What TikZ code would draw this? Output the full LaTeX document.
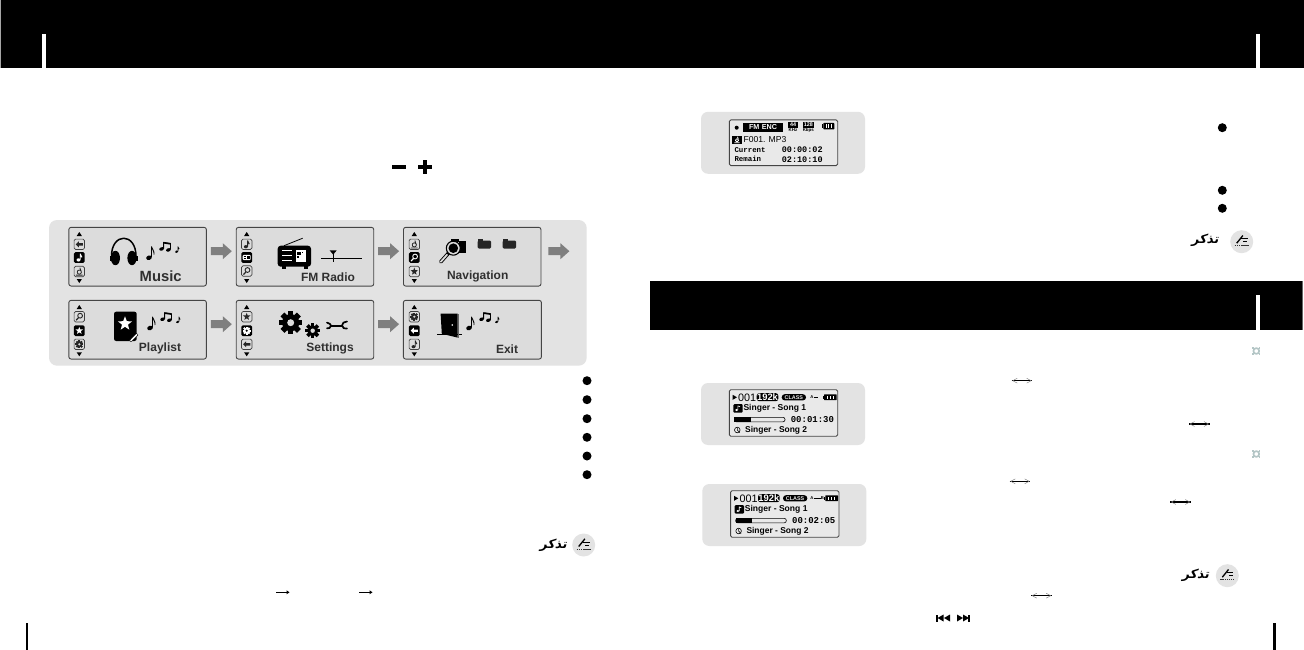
\documentclass[tikz,border=0pt]{standalone}
\usepackage{fontspec}
\setmainfont{Liberation Sans}
\newfontfamily\lcdmono{Liberation Mono}
\newfontfamily\arabicb[Script=Arabic,FakeSlant=0.2]{DejaVu Sans Bold}
\TeXXeTstate=1
\usetikzlibrary{calc}
\definecolor{groupbg}{HTML}{E3E3E3}
\definecolor{panel}{HTML}{DCDCDC}
\definecolor{lcdbg}{HTML}{E9E9E9}
\definecolor{edge}{HTML}{454545}
\definecolor{arrowgray}{HTML}{7F7F7F}
\definecolor{labelgray}{HTML}{303030}
\definecolor{cogtint}{HTML}{B4C6C6}
\tikzset{
  menupanel/.style={draw=edge,fill=panel,line width=.9pt,rounded corners=2.2pt,minimum width=137.5pt,minimum height=58.7pt,inner sep=0pt},
  menulabel/.style={font=\bfseries\fontsize{12}{12}\selectfont,text=labelgray,inner sep=0pt},
  lcd/.style={draw=edge,fill=lcdbg,line width=.9pt,rounded corners=1.5pt,minimum width=108.4pt,minimum height=46.5pt,inner sep=0pt},
  screenbg/.style={fill=groupbg,draw=none,rounded corners=7pt,minimum width=164pt,minimum height=62pt,inner sep=0pt},
  bullet/.style={circle,fill=black,draw=none,minimum size=9pt,inner sep=0pt},
  notedisc/.style={circle,fill=groupbg,draw=none,minimum size=23pt,inner sep=0pt},
  tiny/.style={inner sep=0pt}
}
% --- block arrow centred on a named coordinate
\newcommand{\flowarrow}[1]{\fill[arrowgray]([shift={(-10.5,-4)}]#1)--([shift={(1.5,-4)}]#1)--([shift={(1.5,-8)}]#1)--([shift={(10.5,0)}]#1)--([shift={(1.5,8)}]#1)--([shift={(1.5,4)}]#1)--([shift={(-10.5,4)}]#1)--cycle;}
% --- glyphs for the side icons (drawn round the origin)
\newcommand{\gBack}{\fill[icfg](-3.6,0)--(-.5,-3)--(-.5,-1.2)--(3.6,-1.2)--(3.6,1.2)--(-.5,1.2)--(-.5,3)--cycle;}
\newcommand{\gNote}{\fill[icfg](-.8,2.4) ellipse (2 and 1.6);\draw[icfg,line width=.9pt](.9,2.2)--(.9,-3.6) .. controls (1.4,-2) and (2.6,-1.6) .. (2.6,-.2);}
\newcommand{\gDnote}{\draw[icfg,line width=.8pt](0,.6) circle (2.1);\draw[icfg,line width=.8pt](1.6,-.6)--(.6,-3.8)(-3.4,3.6)--(3.4,3.6);}
\newcommand{\gRadio}{\fill[icfg,rounded corners=1pt](-4,-2.6) rectangle (4,2.6);\fill[icbg](.6,-1.6) rectangle (3,1.2);\draw[icbg,line width=.7pt](-3,-1)--(-.6,-1)(-3,1)--(-.6,1);}
\newcommand{\gMag}{\draw[icfg,line width=.9pt](.8,-1) circle (2.4);\draw[icfg,line width=1.2pt](-.8,.9)--(-3.2,3.6);}
\newcommand{\starfig}[1]{\fill[scale=#1](-90:1)--(-54:.42)--(-18:1)--(18:.42)--(54:1)--(90:.42)--(126:1)--(162:.42)--(198:1)--(234:.42)--cycle;}
\newcommand{\gStar}{\begin{scope}[icfg]\starfig{3.9}\end{scope}}
\newcommand{\gearfig}[3]{\fill[#2](0,0) circle (.74*#1);\foreach \a in {0,45,90,135}{\fill[#2,rotate=\a](-#1,-.24*#1) rectangle (#1,.24*#1);}\fill[#3](0,0) circle (.3*#1);}
\newcommand{\gGear}{\gearfig{4}{icfg}{icbg}}
\newcommand{\iconN}[3]{\begin{scope}[shift={(#1,#2)}]\colorlet{icfg}{black!85}\colorlet{icbg}{panel}\filldraw[fill=icbg,draw=black!75,line width=.7pt,rounded corners=1.5pt](-5.2,-5.2) rectangle (5.2,5.2);#3\end{scope}}
\newcommand{\iconS}[3]{\begin{scope}[shift={(#1,#2)}]\colorlet{icfg}{white}\colorlet{icbg}{black}\fill[black,rounded corners=1.5pt](-5.4,-5.4) rectangle (5.4,5.4);#3\end{scope}}
\newcommand{\sidetris}[3]{\fill[black](#1-2.6,#2+2)--(#1,#2-2)--(#1+2.6,#2+2)--cycle;\fill[black](#1-2.6,#3-2)--(#1,#3+2)--(#1+2.6,#3-2)--cycle;}
% --- music notes group, origin at the big note head
\newcommand{\notegroup}[2]{\begin{scope}[shift={(#1,#2)},black]
 \fill[rotate=20](0,0) ellipse (2.9 and 2.2);
 \draw[line width=.9pt](2.5,-.5)--(2.5,-11) .. controls (3,-8) and (5.6,-7) .. (5,-3);
 \fill[shift={(12.6,-8.8)},rotate=20](0,0) ellipse (2.4 and 1.7);
 \fill[shift={(19.4,-7.8)},rotate=20](0,0) ellipse (2.4 and 1.7);
 \draw[line width=.8pt](14.6,-9)--(14.6,-15.4)--(21.4,-14.4)--(21.4,-8);
 \draw[line width=1.4pt](14.6,-14.8)--(21.4,-13.8);
 \fill[shift={(27.6,-6)},rotate=20](0,0) ellipse (1.7 and 1.3);
 \draw[line width=.7pt](28.9,-6.4)--(28.9,-11) .. controls (29.2,-10) and (30.2,-9.6) .. (30.2,-8.6);
\end{scope}}
% --- battery
\newcommand{\battery}[4]{\fill[black,rounded corners=.6pt](#1+1,#2) rectangle (#3,#4);\fill[black](#1,#2+1.5) rectangle (#1+1,#4-1.5);
 \foreach \k in {.22,.45,.68}{\fill[white]({#1+1+\k*(#3-#1-1)},#2+1.3) rectangle ({#1+1.9+\k*(#3-#1-1)},#4-1.3);}}
% --- play screen
\newcommand{\playscreen}[5]{% prefix, dx, dy, time, repeat mark
 \begin{scope}[shift={(#2,#3)}]
 \node[screenbg] (#1bg) at (783,414) {};
 \node[lcd] (#1lcd) at (783.5,413) {};
 \fill[black](732.7,394.8)--(737,397.3)--(732.7,399.8)--cycle;
 \node[tiny,anchor=west,font=\fontsize{10.8}{11}\selectfont] (#1num) at (738,397.4) {001};
 \fill[black,rounded corners=2.5pt](756.7,393.2) rectangle (778.3,401.2);
 \node[tiny,text=white,font=\bfseries\fontsize{9.4}{10}\selectfont] (#1rate) at (767.5,397.2) {192k};
 \fill[black,rounded corners=3pt](781.7,394.2) rectangle (806,400.4);
 \node[tiny,text=lcdbg,font=\bfseries\fontsize{5.4}{6}\selectfont] (#1cls) at (793.8,397.3) {CLASS};
 #5
 \battery{823}{394.3}{836.7}{400.2}
 \fill[black,rounded corners=1pt](733.3,404.2) rectangle (742.7,412.6);
 \fill[white](736.6,410) ellipse (1.5 and 1.1);\draw[white,line width=.6pt](737.9,410)--(737.9,405.8)--(740,406.8);
 \node[tiny,anchor=west,font=\bfseries\fontsize{8.55}{9}\selectfont] (#1s1) at (743.3,408.6) {Singer - Song 1};
 \draw[black,line width=.6pt,rounded corners=2pt](734.3,417.4) rectangle (785,421.8);
 \fill[black](734.3,417.4) rectangle (750.7,421.8);
 \node[tiny,anchor=east,font=\lcdmono\bfseries\fontsize{9}{10}\selectfont] (#1time) at (834.2,420) {#4};
 \draw[black,line width=.6pt](737.3,430) circle (2.8);\draw[black,line width=.6pt](737.3,430)--(739.8,432.6)(737.3,428)--(737.3,430);
 \node[tiny,anchor=west,font=\bfseries\fontsize{8.45}{9}\selectfont] (#1s2) at (745,430) {Singer - Song 2};
 \end{scope}}
% --- the "note" mark: Arabic word plus grey disc with pen sketch
\newcommand{\notemark}[5]{% prefix, word x, word y, disc x, disc y
 \node[tiny,font=\arabicb\fontsize{12.5}{13}\selectfont] (#1word) at (#2,#3) {\beginR تذكر\endR};
 \node[notedisc] (#1disc) at (#4,#5) {};
 \begin{scope}[shift={(#4,#5)}]
  \draw[black,line width=1.3pt](-5,1.5)--(1.2,-6.2);
  \draw[black,line width=1pt](-.5,-3)--(6,-3);
  \draw[black!80,line width=1pt,dash pattern=on 1.5pt off .6pt](-7,4.2)--(7,4.2);
  \draw[black,line width=.9pt](1.5,0)--(5.5,0);
 \end{scope}}
\newcommand{\updown}[2]{% double-headed thin mark starting at x=#1, y=#2
 \draw[black,line width=1.1pt](#1,#2)--(#1+20.5,#2);
 \draw[black!50,line width=.45pt](#1+5.5,#2-2.4)--(#1+1,#2)--(#1+5.5,#2+2.4)(#1+15,#2-2.4)--(#1+19.5,#2)--(#1+15,#2+2.4);}
\newcommand{\smallright}[2]{\draw[black,line width=.9pt](#1,#2)--(#1+12,#2);\fill[black](#1+10.5,#2-2)--(#1+13.5,#2)--(#1+10.5,#2+2)--cycle;}
\begin{document}
\begin{tikzpicture}[x=1pt,y=-1pt,line join=round]
\useasboundingbox (0,0) rectangle (1304,650);
\fill[white](0,0) rectangle (1304,650);
% headers
\fill[black!35](0,0) rectangle (1.2,68.5);
\fill[black](1,0) rectangle (1304,68.5);
\fill[white](42.4,33.6) rectangle (46,68.5);
\fill[white](1256,33.6) rectangle (1259.6,68.5);
\fill[black](650,281) rectangle (1302,329.5);
\fill[black!60](1302,281) rectangle (1303,329.5);
\fill[white](1256,295) rectangle (1259.8,329.5);
% bottom ticks
\fill[black](26,623) rectangle (28.4,650);
\fill[black](1273.4,623) rectangle (1275.8,650);
% minus plus
\fill[black](391.7,164.8) rectangle (406,168.6);
\fill[black](418,164.8) rectangle (432,168.6);
\fill[black](423,160) rectangle (427,174);
% menu group
\fill[groupbg,rounded corners=8pt](49,220) rectangle (586.7,365.7);
\node[menupanel] (p1) at (137.6,256.7) {};
\node[menupanel] (p2) at (305,256.7) {};
\node[menupanel] (p3) at (472.2,256.7) {};
\node[menupanel] (p4) at (137.6,329.7) {};
\node[menupanel] (p5) at (305,329.7) {};
\node[menupanel,minimum width=138pt] (p6) at (472.4,329.7) {};
\coordinate (a1) at ($(p1.east)!.5!(p2.west)+(0,-5.5)$);
\coordinate (a2) at ($(p2.east)!.5!(p3.west)+(0,-5.5)$);
\coordinate (a3) at ($(p3.east)+(17.5,-5.5)$);
\coordinate (a4) at ($(p4.east)!.5!(p5.west)+(0,-5.5)$);
\coordinate (a5) at ($(p5.east)!.5!(p6.west)+(0,-5.5)$);
\flowarrow{a1}\flowarrow{a2}\flowarrow{a3}\flowarrow{a4}\flowarrow{a5}
% labels
\node[menulabel,font=\bfseries\fontsize{14.8}{15}\selectfont] (l1) at (160.7,276.7) {Music};
\node[menulabel] (l2) at (328,277) {FM Radio};
\node[menulabel] (l3) at (477.7,276.5) {Navigation};
\node[menulabel] (l4) at (160,348.2) {Playlist};
\node[menulabel] (l5) at (330,348.2) {Settings};
\node[menulabel] (l6) at (507,349) {Exit};
% side icons row 1
\sidetris{79.3}{234}{281}\iconN{79.3}{244.3}{\gBack}\iconS{79.3}{257.5}{\gNote}\iconN{79.3}{271.5}{\gDnote}
\sidetris{246.7}{234}{281}\iconN{246.7}{244.3}{\gNote}\iconS{246.7}{257.5}{\gRadio}\iconN{246.7}{271}{\gMag}
\sidetris{414.3}{234}{281}\iconN{414.3}{244.3}{\gDnote}\iconS{414.3}{257.5}{\gMag}\iconN{414.3}{271.5}{\gStar}
% side icons row 2
\sidetris{79.3}{307}{354.3}\iconN{79.3}{316.7}{\gMag}\iconS{79.3}{330.7}{\gStar}\iconN{79.3}{344.3}{\gGear}
\sidetris{246.7}{307}{354.3}\iconN{246.7}{316.7}{\gStar}\iconS{246.7}{330.7}{\gGear}\iconN{246.7}{344.3}{\gBack}
\sidetris{414.3}{307}{354.3}\iconN{414.3}{316.7}{\gGear}\iconS{414.3}{330.7}{\gBack}\iconN{414.3}{344.3}{\gNote}
% Music: headphones + notes
\draw[black,line width=1.5pt](111.5,257) .. controls (111,232) and (136.5,232) .. (136,257);
\fill[black](115.4,258) ellipse (4.6 and 7.2);
\fill[black](132,258) ellipse (4.6 and 7.2);
\fill[black](110,255.5) rectangle (111.6,260.5);
\fill[black](136,255.5) rectangle (137.6,260.5);
\notegroup{149}{257.7}
% FM radio
\fill[black,rounded corners=3pt](277.7,245.7) rectangle (311,266.7);
\fill[black](281.5,266) rectangle (285.5,268.5);\fill[black](303.5,266) rectangle (307.5,268.5);
\draw[black,line width=.8pt](284,245.7)--(302.7,238.2);
\fill[white](281.5,249.8) rectangle (292,251.4);\fill[white](281.5,254.8) rectangle (292,256.4);\fill[white](281.5,259.8) rectangle (292,261.4);
\fill[white](295.5,250) rectangle (306,262);
\fill[black](297,251.5) rectangle (300.5,255);\fill[black](301.5,251.5) rectangle (303,253);\fill[black](297,256) rectangle (298.5,258);
\draw[black,line width=.8pt](321,258.3)--(361.7,258.3);
\draw[black,line width=.8pt](333.2,252)--(333.2,261.5);
\fill[black](329.7,250.4)--(336.7,250.4)--(333.2,254.6)--cycle;
% Navigation
\fill[black](459,241) rectangle (465.5,252.5);
\fill[black](451,238.6) rectangle (459,242);
\draw[black,line width=3.6pt,line cap=round](440.8,261.8)--(448.6,253);
\draw[panel,line width=1.8pt,line cap=round](440.8,261.8)--(447,254.8);
\filldraw[fill=panel,draw=black,line width=1.1pt](453.3,248.2) circle (7);
\fill[black](453.3,248.2) circle (4.8);
\foreach \fx in {477.7,502.7}{\fill[black!85,rounded corners=1.2pt](\fx,240.5) rectangle ++(13.3,8);\fill[black!85](\fx+.5,239) rectangle ++(5,2.5);}
% Playlist
\fill[black,rounded corners=2.2pt](114,311.7) rectangle (136.7,341);
\begin{scope}[shift={(125,323.7)},white]\starfig{7.4}\end{scope}
\fill[white](129.5,340.5)--(136.5,333.3)--(138,335)--(131,341.8)--cycle;
\draw[black,line width=.4pt](129.5,340.5)--(136.5,333.3)--(138,335)--(131,341.8)--cycle;
\notegroup{150}{328}
% Settings
\begin{scope}[shift={(290.7,322.7)}]\gearfig{11.6}{black}{panel}\end{scope}
\begin{scope}[shift={(312.7,330.7)}]\gearfig{7.4}{black}{panel}\end{scope}
\draw[black,line width=2pt](331,325.7)--(342,325.7);
\draw[black,line width=1.7pt,line cap=round](327,322.6)--(330,324)--(331,325.8)--(329.5,328)--(327,328.3);
\draw[black,line width=1.7pt,line cap=round](347,321.5)--(343.5,322.6)--(342,325.4)--(343.7,328.2)--(347,328.6);
% Exit
\fill[black](437,333.6) rectangle (461.7,335);
\fill[black](440.6,313.6)--(457.6,313.6)--(457.6,337.6)--(441.8,333.8)--cycle;
\fill[white](452.2,325) circle (.8);
\fill[black!60](457.6,313.6) rectangle (458.6,337.6);
\notegroup{469}{328}
% FM encoding screen
\node[screenbg] (s1bg) at (783,142.8) {};
\node[lcd,minimum height=45.7pt] (s1lcd) at (783.5,142.8) {};
\fill[black](736.7,127.7) circle (2);
\fill[black](742.7,123) rectangle (783.3,131.7);
\node[tiny,text=white,font=\bfseries\fontsize{7.2}{8}\selectfont] (s1mode) at (763,127.4) {FM\,\,ENC};
\fill[black](787.7,122.3) rectangle (798.3,127.9);
\node[tiny,text=white,font=\bfseries\fontsize{5.4}{6}\selectfont] (s1khzv) at (793,125.1) {44};
\node[tiny,font=\bfseries\fontsize{4.4}{5}\selectfont] (s1khz) at (793,130.4) {KHz};
\fill[black](802.7,122.3) rectangle (814,127.9);
\node[tiny,text=white,font=\bfseries\fontsize{5.4}{6}\selectfont] (s1bpsv) at (808.3,125.1) {128};
\node[tiny,font=\bfseries\fontsize{4.4}{5}\selectfont] (s1bps) at (808.3,130.4) {Kbps};
\battery{822.3}{123}{834.3}{129.4}
\fill[black](732.3,135.7) rectangle (741.7,143.6);
\begin{scope}[shift={(737,139.8)},scale=.8]\colorlet{icfg}{white}\gDnote\end{scope}
\node[tiny,anchor=west,font=\fontsize{8.6}{9}\selectfont] (s1file) at (743.3,140) {F001. MP3};
\node[tiny,anchor=west,font=\lcdmono\bfseries\fontsize{7.4}{8}\selectfont] (s1cur) at (734.3,149.7) {Current};
\node[tiny,anchor=east,font=\lcdmono\bfseries\fontsize{8.5}{9}\selectfont] (s1curv) at (822.8,149.7) {00:00:02};
\node[tiny,anchor=west,font=\lcdmono\bfseries\fontsize{7.4}{8}\selectfont] (s1rem) at (734.3,159.3) {Remain};
\node[tiny,anchor=east,font=\lcdmono\bfseries\fontsize{8.5}{9}\selectfont] (s1remv) at (822.8,159.3) {02:10:10};
% play screens
\playscreen{s2}{0}{0}{00:01:30}{\node[tiny,font=\bfseries\fontsize{4.2}{5}\selectfont] (s2a) at (812,397) {A};\draw[black,line width=.8pt](813.8,397.8)--(818.3,397.8);}
\playscreen{s3}{1.3}{101}{00:02:05}{\node[tiny,font=\bfseries\fontsize{4.2}{5}\selectfont] (s3a) at (810.5,396.6) {A};\node[tiny,font=\bfseries\fontsize{4.2}{5}\selectfont] (s3b) at (821,396.6) {B};\draw[black,line width=.7pt](812.4,397.2)--(819.2,397.2);}
% bullets
\foreach \n/\yy in {1/380.7,2/399.7,3/418.7,4/437.3,5/456,6/474.7}{\node[bullet] (bl\n) at (587,\yy) {};}
\foreach \n/\yy in {1/127.7,2/190.3,3/208.3}{\node[bullet] (br\n) at (1222.3,\yy) {};}
% note marks
\notemark{n1}{1205}{240.7}{1241.7}{241.7}
\notemark{n2}{553.4}{545}{583.7}{545}
\notemark{n3}{1195.5}{575.7}{1227.3}{575.7}
% small gear marks
\foreach \yy in {351,454}{\begin{scope}[shift={(1256.3,\yy)}]\draw[cogtint,line width=1.7pt](0,0) circle (2.9);\fill[cogtint](-4,-4) rectangle (-2.2,-2.2);\fill[cogtint](2.2,-4) rectangle (4,-2.2);\fill[cogtint](-4,2.2) rectangle (-2.2,4);\fill[cogtint](2.2,2.2) rectangle (4,4);\end{scope}}
% thin double arrows
\updown{1011.7}{380.7}
\updown{1189}{424}
\updown{1009.7}{481.3}
\updown{1170.3}{502}
\updown{1031.2}{595.7}
% thin right arrows
\smallright{276}{592.3}
\smallright{359}{592.3}
% skip icons
\fill[black](936,614.5) rectangle (937.6,621.5);
\fill[black](943.5,614.5)--(937.6,618)--(943.5,621.5)--cycle;
\fill[black](950,614.5)--(944,618)--(950,621.5)--cycle;
\fill[black](957,614.5)--(963,618)--(957,621.5)--cycle;
\fill[black](963,614.5)--(969,618)--(963,621.5)--cycle;
\fill[black](968.4,614.5) rectangle (970,621.5);
\end{tikzpicture}
\end{document}
